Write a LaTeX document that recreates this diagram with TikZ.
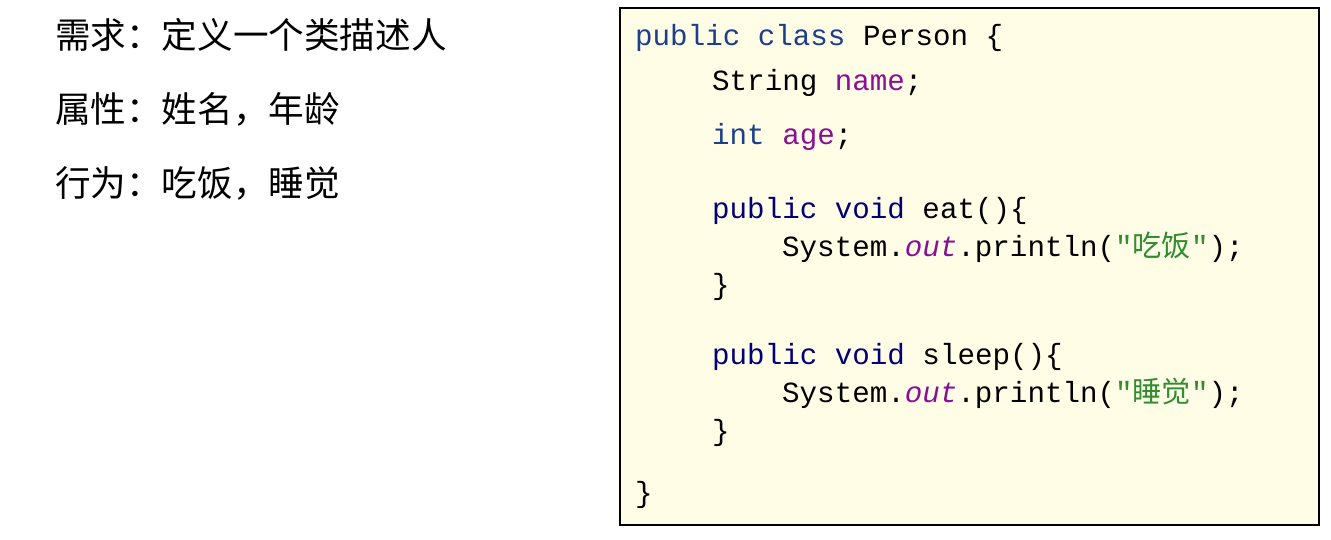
\documentclass[tikz,border=0pt]{standalone}
\usepackage{fontspec}
\setmonofont{Liberation Mono}
\newfontfamily\cjk{Noto Sans CJK SC}
\usepackage{tikz}
\definecolor{codebg}{RGB}{255,253,230}
\definecolor{kwblue}{RGB}{28,62,140}
\definecolor{kwnavy}{RGB}{0,0,120}
\definecolor{fieldpurple}{RGB}{135,16,148}
\definecolor{strgreen}{RGB}{50,140,50}
\newcommand{\kwb}[1]{\textcolor{kwblue}{#1}}
\newcommand{\kwn}[1]{\textcolor{kwnavy}{#1}}
\newcommand{\fld}[1]{\textcolor{fieldpurple}{#1}}
\newcommand{\str}[1]{\textcolor{strgreen}{"{\cjk #1}"}}

\begin{document}
\begin{tikzpicture}[x=1pt, y=-1pt,
    req/.style={anchor=west, inner sep=0pt, font=\fontsize{35.6}{36}\cjk},
    code/.style={anchor=base west, inner sep=0pt, font=\fontsize{29.2}{29}\ttfamily}]

    \useasboundingbox (0,0) rectangle (1331,539);

    % left side: the task
    \node[req] (r1) at (55,35) {需求：定义一个类描述人};
    \node[req] (r2) at (55,109) {属性：姓名，年龄};
    \node[req] (r3) at (55,183) {行为：吃饭，睡觉};

    % right side: the class
    \node[draw, line width=2pt, fill=codebg,
        minimum width=699pt,
        minimum height=517pt,
        inner sep=0pt, anchor=north west
        ] (box) at (619,7) {};

    \node[code] (11) at (635,45) {\kwb{public class} Person \{};
    \node[code] (12) at (712,90) {String \fld{name};};
    \node[code] (13) at (712,144) {\kwb{int} \fld{age};};

    \node[code] (14) at (712,218) {\kwn{public void} eat()\{};
    \node[code] (15) at (782,256) {System.\fld{\textit{out}}.println(\str{吃饭});};
    \node[code] (16) at (712,294) {\}};

    \node[code] (17) at (712,364) {\kwn{public void} sleep()\{};
    \node[code] (18) at (782,402) {System.\fld{\textit{out}}.println(\str{睡觉});};
    \node[code] (19) at (712,440) {\}};

    \node[code] (20) at (635,502) {\}};

\end{tikzpicture}
\end{document}
